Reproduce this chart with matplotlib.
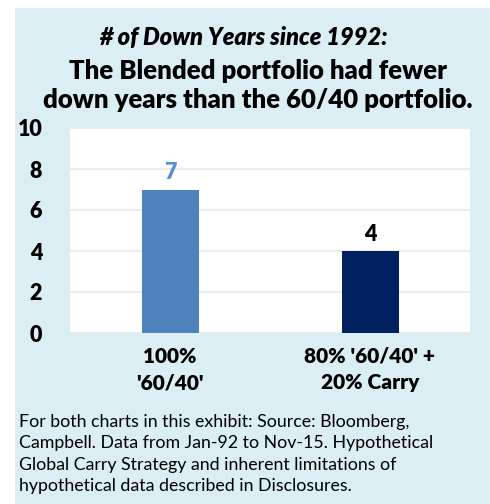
import matplotlib.pyplot as plt
from matplotlib.patches import Rectangle

categories = ["100%\n'60/40'", "80% '60/40' +\n20% Carry"]
down_years = [7, 4]
bar_colors = ["#4F81BD", "#002060"]
label_colors = ["#558ED5", "#000000"]
y_ticks = [0, 2, 4, 6, 8, 10]

title_1 = "# of Down Years since 1992:"
title_2 = "The Blended portfolio had fewer\ndown years than the 60/40 portfolio."
footnote = ("For both charts in this exhibit: Source: Bloomberg,\n"
            "Campbell. Data from Jan-92 to Nov-15. Hypothetical\n"
            "Global Carry Strategy and inherent limitations of\n"
            "hypothetical data described in Disclosures.")

plt.rcParams['font.family'] = ['Lato', 'DejaVu Sans']

W, H = 490, 504
fig = plt.figure(figsize=(W / 100, H / 100), dpi=100)
fig.patch.set_facecolor("white")

# light blue panel behind everything
fig.patches.append(Rectangle((15 / W, 0), 1, 1 - 8 / H, transform=fig.transFigure,
                             facecolor="#DAEEF3", edgecolor="none", zorder=-5))

ax = fig.add_axes([70 / W, 1 - 333 / H, 400 / W, 205 / H])
ax.set_zorder(2)
ax.set_facecolor("white")
x = list(range(len(categories)))
bars = ax.bar(x, down_years, width=0.285, color=bar_colors, zorder=3)
ax.set_xlim(-0.5, 1.5)
ax.set_ylim(0, 10)
ax.set_yticks(y_ticks)
ax.set_yticklabels([str(t) for t in y_ticks], fontsize=15.5, fontweight="heavy")
ax.set_xticks(x)
ax.set_xticklabels(categories, fontsize=15, fontweight="heavy", linespacing=1.45)
ax.tick_params(length=0)
ax.tick_params(axis="y", pad=20)
ax.tick_params(axis="x", pad=10)
ax.grid(axis="y", color="#EDEDED", linewidth=1.5, zorder=0)
for s in ax.spines.values():
    s.set_visible(False)

for b, v, c in zip(bars, down_years, label_colors):
    ax.text(b.get_x() + b.get_width() / 2, v + 0.3, str(v), ha="center", va="bottom",
            fontsize=15.5, fontweight="heavy", color=c)

fig.text(243 / W, 1 - 37 / H, title_1, ha="center", va="center", fontsize=17,
         fontweight="heavy", style="italic")
fig.text(258 / W, 1 - 85 / H, title_2, ha="center", va="center", fontsize=18.5,
         fontweight="heavy", linespacing=1.25)

fig.text(19 / W, 1 - 454 / H, footnote, ha="left", va="center", fontsize=12.8,
         linespacing=1.4)

fig.savefig("out.png", dpi=100)
